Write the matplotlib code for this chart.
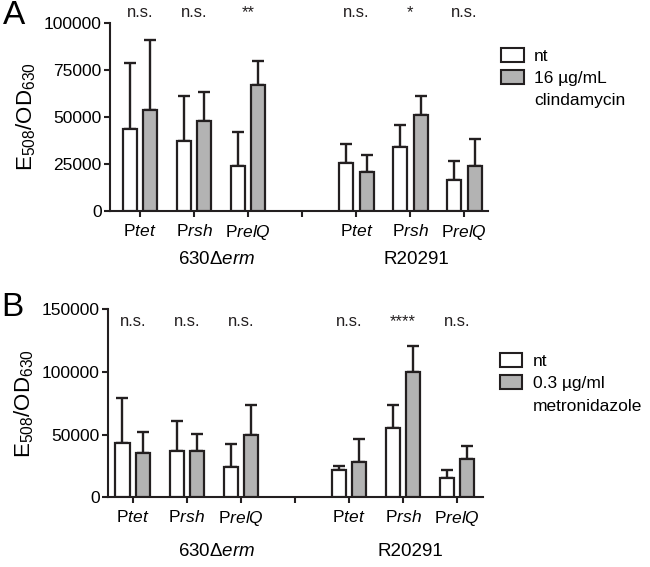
import matplotlib
matplotlib.use("Agg")
import matplotlib.pyplot as plt
from matplotlib.patches import Patch
import numpy as np

plt.rcParams['font.family'] = ['Liberation Sans', 'DejaVu Sans']
plt.rcParams['mathtext.fontset'] = 'custom'
plt.rcParams['mathtext.rm'] = 'Liberation Sans'
plt.rcParams['mathtext.it'] = 'Liberation Sans:italic'

# promoters and strains
promoters = ["tet", "rsh", "relQ"]
strains = ["630Δ$\\mathit{erm}$", "R20291"]

# panel A: untreated vs 16 ug/mL clindamycin (630Derm Ptet, Prsh, PrelQ, R20291 Ptet, Prsh, PrelQ)
a_nt = [43400, 37200, 23900, 25400, 34200, 16500]
a_nt_sd = [35600, 24000, 18000, 10100, 11500, 10300]
a_trt = [53700, 48000, 67000, 20700, 51200, 23900]
a_trt_sd = [37600, 15100, 12800, 9100, 10300, 14400]
a_sig = ["n.s.", "n.s.", "**", "n.s.", "*", "n.s."]

# panel B: untreated vs 0.3 ug/ml metronidazole
b_nt = [43600, 37200, 23900, 21800, 55300, 15400]
b_nt_sd = [35600, 23900, 18400, 3400, 18100, 6600]
b_trt = [35600, 36700, 49500, 28400, 99700, 30600]
b_trt_sd = [16500, 13600, 24400, 17900, 21000, 10600]
b_sig = ["n.s.", "n.s.", "n.s.", "n.s.", "****", "n.s."]

edge = "#231f20"
grey = "#b3b3b3"
pos = np.array([0, 1, 2, 4, 5, 6])
off = 0.19
w = 0.26

fig = plt.figure(figsize=(6.5, 5.67), dpi=100)
axA = fig.add_axes([0.169, 0.628, 0.582, 0.331])
axB = fig.add_axes([0.166, 0.123, 0.577, 0.3315])


def panel(ax, nt, nt_sd, trt, trt_sd, sig, ymax, step, sig_y, xlim, trt_label,
          letter, letter_y, leg_xy, group_x, group_dy):
    ax.bar(pos - off, nt, w, color="white", edgecolor=edge, linewidth=1.6, zorder=3)
    ax.bar(pos + off, trt, w, color=grey, edgecolor=edge, linewidth=1.6, zorder=3)
    z = np.zeros(len(pos))
    ax.errorbar(pos - off, nt, yerr=[z, nt_sd], fmt="none", ecolor=edge,
                elinewidth=1.7, capsize=4.5, capthick=1.7, zorder=2)
    ax.errorbar(pos + off, trt, yerr=[z, trt_sd], fmt="none", ecolor=edge,
                elinewidth=1.7, capsize=4.5, capthick=1.7, zorder=2)
    for x, s in zip(pos, sig):
        ax.text(x, sig_y, s, ha="center", va="center", fontsize=12, color="#231f20",
                clip_on=False)
    ax.set_xlim(*xlim)
    ax.set_ylim(0, ymax)
    ax.set_yticks(np.arange(0, ymax + 1, step))
    ax.set_xticks(np.arange(7))
    labels = ["P$\\mathit{%s}$" % p for p in promoters]
    ax.set_xticklabels(labels + [""] + labels)
    ax.tick_params(axis="both", labelsize=12.5, width=1.5, length=4.5, color=edge)
    ax.tick_params(axis="x", pad=4)
    ax.tick_params(axis="y", pad=1.5)
    for s in ["top", "right"]:
        ax.spines[s].set_visible(False)
    for s in ["left", "bottom"]:
        ax.spines[s].set_linewidth(1.5)
        ax.spines[s].set_color(edge)
    ax.set_ylabel("E$_{508}$/OD$_{630}$", fontsize=16, labelpad=4)
    for gx, name in zip(group_x, strains):
        ax.annotate(name, xy=(gx, 0), xycoords=("data", "axes fraction"),
                    xytext=(0, -group_dy), textcoords="offset points",
                    ha="center", va="center", fontsize=13.5)
    ax.text(-0.225, letter_y, letter, transform=ax.transAxes, fontsize=24,
            ha="right", va="center")
    lines = trt_label.split("\n")
    handles = [Patch(facecolor="white", edgecolor=edge, linewidth=1.5),
               Patch(facecolor=grey, edgecolor=edge, linewidth=1.5),
               Patch(facecolor="none", edgecolor="none")]
    fig.legend(handles, ["nt"] + lines, loc="upper left", bbox_to_anchor=leg_xy,
               frameon=False, fontsize=12.5, handlelength=1.3, handleheight=0.85,
               handletextpad=0.6, labelspacing=0.36, borderpad=0, borderaxespad=0)


panel(axA, a_nt, a_nt_sd, a_trt, a_trt_sd, a_sig, 100000, 25000, 105800,
      (-0.56, 6.44), "16 µg/mL\nclindamycin", "A", 1.04, (0.771, 0.915),
      [1.41, 5.11], 35)
panel(axB, b_nt, b_nt_sd, b_trt, b_trt_sd, b_sig, 150000, 50000, 139900,
      (-0.46, 6.48), "0.3 µg/ml\nmetronidazole", "B", 1.01, (0.769, 0.377),
      [1.56, 5.13], 39)

fig.savefig("out.png", dpi=100)
